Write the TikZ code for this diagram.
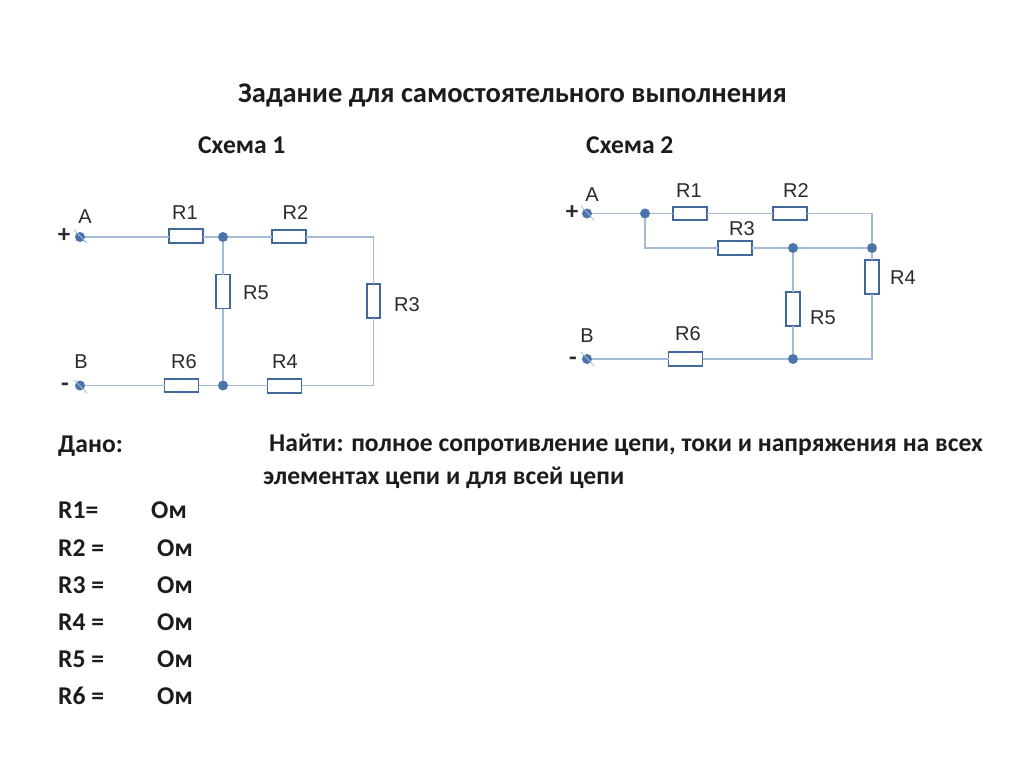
\documentclass[tikz,border=0pt]{standalone}
\usepackage{fontspec}
\setmainfont{Carlito}
\newfontfamily\labfont{Liberation Sans}
\definecolor{wire}{HTML}{A3BBD6}
\definecolor{boxc}{HTML}{41689A}
\definecolor{dotc}{HTML}{4A74AC}
\definecolor{txt}{HTML}{1C1C1C}
\definecolor{lab}{HTML}{2A2A2A}
\tikzset{
 hres/.style={draw=boxc,line width=1.8pt,fill=white,minimum width=34pt,minimum height=13.5pt,inner sep=0pt,outer sep=0pt},
 vres/.style={draw=boxc,line width=1.8pt,fill=white,minimum width=13.5pt,minimum height=34pt,inner sep=0pt,outer sep=0pt},
 jdot/.style={circle,fill=dotc,minimum size=10pt,inner sep=0pt,outer sep=0pt},
 wireline/.style={draw=wire,line width=1.2pt},
 tick/.style={draw=wire,line width=.8pt},
 rlab/.style={font=\labfont\fontsize{20}{22}\selectfont,text=lab,inner sep=0pt},
 sign/.style={font=\bfseries\fontsize{25}{26}\selectfont,text=lab,inner sep=0pt},
 body/.style={font=\bfseries\fontsize{25.6}{28}\selectfont,text=txt,anchor=base west,inner sep=0pt},
 head/.style={font=\bfseries\fontsize{28.5}{30}\selectfont,text=txt,anchor=base west,inner sep=0pt},
}
\begin{document}
\begin{tikzpicture}[x=1pt,y=-1pt]
\useasboundingbox[fill=white] (0,0) rectangle (1024,767);
% Scheme 1
\node[jdot] (a1) at (80,237) {};
\node[jdot] (b1) at (80,385.5) {};
\node[jdot] (j1) at (223,237) {};
\node[jdot] (j2) at (223,385.5) {};
\node[hres] (r11) at (186,236) {};
\node[hres] (r12) at (289,236.5) {};
\node[vres] (r13) at (373.5,301) {};
\node[hres] (r14) at (284.5,386) {};
\node[vres] (r15) at (223,291.5) {};
\node[hres] (r16) at (181.5,385.5) {};
\coordinate (c11) at (373.5,237);
\coordinate (c12) at (373.5,385.5);
\coordinate (t1a) at (74,230); \coordinate (t1b) at (87,243);
\coordinate (t2a) at (74,380); \coordinate (t2b) at (87,393);
\draw[tick] (t1a) -- (t1b);
\draw[tick] (t2a) -- (t2b);
\draw[wireline] (a1) -- (r11.west |- a1);
\draw[wireline] (r11.east |- j1) -- (j1);
\draw[wireline] (j1) -- (r12.west |- j1);
\draw[wireline] (r12.east |- c11) -- (c11) -- (r13);
\draw[wireline] (r13) -- (c12) -- (r14.east |- c12);
\draw[wireline] (r14.west |- j2) -- (j2);
\draw[wireline] (j2) -- (r16);
\draw[wireline] (r16) -- (b1);
\draw[wireline] (j1) -- (r15);
\draw[wireline] (r15) -- (j2);
\node[rlab] (la1) at (85,217) {A};
\node[rlab] (lb1) at (81,362) {B};
\node[rlab] (l11) at (185,212.5) {R1};
\node[rlab] (l12) at (295.5,212.5) {R2};
\node[rlab] (l13) at (407,305) {R3};
\node[rlab] (l14) at (285,361.5) {R4};
\node[rlab] (l15) at (256,293) {R5};
\node[rlab] (l16) at (184,361.5) {R6};
\node[sign] (p1) at (64,236) {+};
\node[sign] (m1) at (65,387) {-};
% Scheme 2
\node[jdot] (a2) at (587,213.5) {};
\node[jdot] (b2) at (587,359) {};
\node[jdot] (k1) at (645,213.5) {};
\node[jdot] (k2) at (793,248) {};
\node[jdot] (k3) at (872,248) {};
\node[jdot] (k4) at (793,359) {};
\node[hres] (r21) at (690,213.5) {};
\node[hres] (r22) at (790,213.5) {};
\node[hres] (r23) at (735,248) {};
\node[vres] (r24) at (872,277) {};
\node[vres] (r25) at (793,309) {};
\node[hres] (r26) at (685.5,359) {};
\coordinate (c21) at (872,213.5);
\coordinate (c22) at (872,359);
\coordinate (c23) at (645,248);
\coordinate (t3a) at (581,206); \coordinate (t3b) at (594,220);
\coordinate (t4a) at (581,352); \coordinate (t4b) at (594,366);
\draw[tick] (t3a) -- (t3b);
\draw[tick] (t4a) -- (t4b);
\draw[wireline] (a2) -- (k1);
\draw[wireline] (k1) -- (r21);
\draw[wireline] (r21) -- (r22);
\draw[wireline] (r22) -- (c21) -- (k3);
\draw[wireline] (k1) -- (c23) -- (r23);
\draw[wireline] (r23) -- (k2);
\draw[wireline] (k2) -- (k3);
\draw[wireline] (k3) -- (r24);
\draw[wireline] (r24) -- (c22) -- (k4);
\draw[wireline] (k2) -- (r25);
\draw[wireline] (r25) -- (k4);
\draw[wireline] (k4) -- (r26);
\draw[wireline] (r26) -- (b2);
\node[rlab] (la2) at (592,195) {A};
\node[rlab] (lb2) at (587,336) {B};
\node[rlab] (l21) at (689,191) {R1};
\node[rlab] (l22) at (796,191) {R2};
\node[rlab] (l23) at (742,229) {R3};
\node[rlab] (l24) at (903,278) {R4};
\node[rlab] (l25) at (823,318) {R5};
\node[rlab] (l26) at (688,334) {R6};
\node[sign] (p2) at (572,213) {+};
\node[sign] (m2) at (573,361) {-};
% Text
\node[head] (title) at (238,103) {Задание для самостоятельного выполнения};
\node[body] (s1) at (198,154) {Схема 1};
\node[body] (s2) at (586,154) {Схема 2};
\node[body] (given) at (58,452) {Дано:};
\node[body] (find1) at (269,451) {Найти: полное сопротивление цепи, токи и напряжения на всех};
\node[body] (find2) at (263,484) {элементах цепи и для всей цепи};
\node[body] (v1) at (58,518) {R1=};
\node[body] (u1) at (151,518) {Ом};
\node[body] (v2) at (58,556) {R2 =};
\node[body] (u2) at (157,556) {Ом};
\node[body] (v3) at (58,593) {R3 =};
\node[body] (u3) at (157,593) {Ом};
\node[body] (v4) at (58,630) {R4 =};
\node[body] (u4) at (157,630) {Ом};
\node[body] (v5) at (58,667) {R5 =};
\node[body] (u5) at (157,667) {Ом};
\node[body] (v6) at (58,704) {R6 =};
\node[body] (u6) at (157,704) {Ом};
\end{tikzpicture}
\end{document}
